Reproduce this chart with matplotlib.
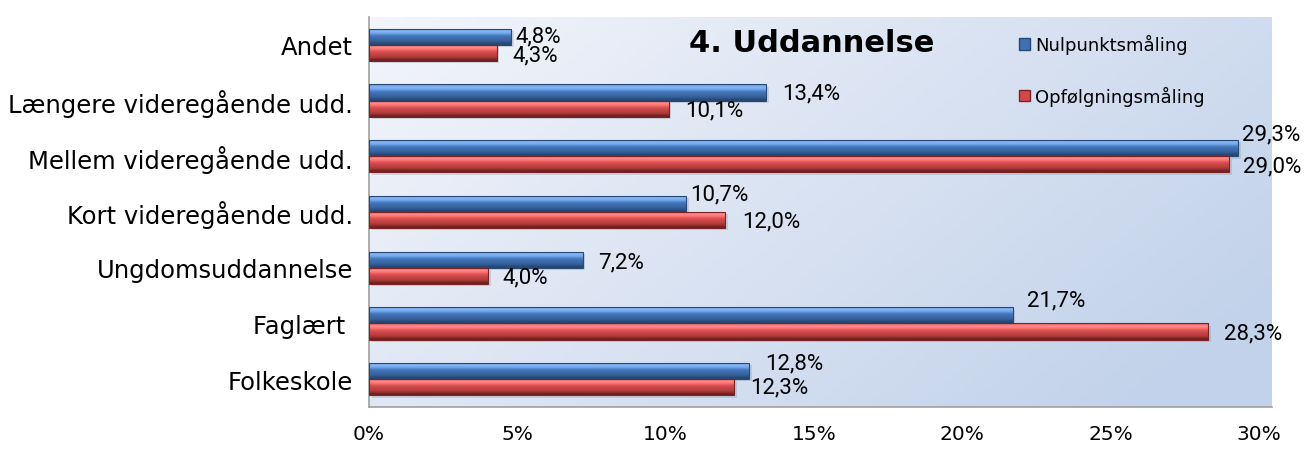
import numpy as np
import matplotlib
matplotlib.use("Agg")
import matplotlib.pyplot as plt
from matplotlib.colors import to_rgb
from matplotlib.patches import Patch

categories = ["Folkeskole", "Faglært ", "Ungdomsuddannelse", "Kort videregående udd.",
              "Mellem videregående udd.", "Længere videregående udd.", "Andet"]
nulpunkt = [12.8, 21.7, 7.2, 10.7, 29.3, 13.4, 4.8]
opfoelgning = [12.3, 28.3, 4.0, 12.0, 29.0, 10.1, 4.3]
series_names = ["Nulpunktsmåling", "Opfølgningsmåling"]
xticks = [0, 5, 10, 15, 20, 25, 30]
title = "4. Uddannelse"

# label offsets in pixels (dx, dy) from bar end / bar centre -- styling only
blue_off = [(17, 8), (14, 15), (16, -2), (4, 10), (4, 14), (16, 0), (4, 1)]
red_off = [(16, 0), (16, -1), (15, -1), (17, -1), (14, -2), (17, -1), (16, -2)]

plt.rcParams['font.family'] = ['DejaVu Sans']
label_family, label_size = ['Roboto', 'DejaVu Sans'], 16

fig = plt.figure(figsize=(13.06, 4.52), dpi=100)
ax = fig.add_axes([369/1306, 1-408/452, (1272-369)/1306, (408-18)/452])

# background gradient
c0, c1 = np.array(to_rgb("#f3f5fb")), np.array(to_rgb("#c2d2ea"))
gx, gy = np.meshgrid(np.linspace(0, 1, 300), np.linspace(0, 1, 100))
t = np.clip(0.72 * gx + 0.38 * gy, 0, 1)[..., None]
bgimg = c0 * (1 - t) + c1 * t
ax.imshow(bgimg, extent=[0, 1, 0, 1], transform=ax.transAxes,
          aspect="auto", zorder=0, origin="upper")

y = np.arange(len(categories))
h = 0.29

def stripe(cols):
    return np.array([to_rgb(c) for c in cols])[:, None, :]

blue_img = stripe(["#24466f", "#31598f", "#3a66a3", "#3f6db0", "#4a7cc0", "#6fa4ea", "#86b6f5", "#6d9fe2"])
red_img = stripe(["#6e1f1f", "#a03434", "#bb4040", "#c84646", "#d85454", "#ff6e6e", "#ff8c8c", "#ee6a6a"])

def draw(vals, pos, img, edge):
    bars = ax.barh(pos, vals, height=h, color="none", edgecolor=edge, linewidth=0.8, zorder=3)
    for b in bars:
        x0, y0 = b.get_x(), b.get_y()
        w, hh = b.get_width(), b.get_height()
        ax.barh(y0 + hh/2 - 0.04, w, left=x0 + 0.1, height=hh, color="#6c7890",
                alpha=0.22, zorder=1.5, linewidth=0)
        im = ax.imshow(img, extent=[x0, x0 + w, y0, y0 + hh], aspect="auto",
                       origin="lower", zorder=2, interpolation="bilinear")
        im.set_clip_path(b)
    return bars

draw(nulpunkt, y + h/2, blue_img, "#274a78")
draw(opfoelgning, y - h/2, red_img, "#7a2424")

fmt = lambda v: f"{v:.1f}%".replace(".", ",")
for i in range(len(categories)):
    ax.annotate(fmt(nulpunkt[i]), (nulpunkt[i], y[i] + h/2), xytext=blue_off[i],
                textcoords="offset pixels", fontsize=label_size, family=label_family,
                va="center", ha="left", zorder=5)
    ax.annotate(fmt(opfoelgning[i]), (opfoelgning[i], y[i] - h/2), xytext=red_off[i],
                textcoords="offset pixels", fontsize=label_size, family=label_family,
                va="center", ha="left", zorder=5)

ax.set_xlim(0, 30.45)
ax.set_ylim(-0.5, len(categories) - 0.5)
ax.set_xticks(xticks)
ax.set_xticklabels([f"{t}%" for t in xticks], fontsize=14.5)
ax.set_yticks(y)
ax.set_yticklabels(categories, fontsize=17.5)
ax.tick_params(axis="both", length=0)
ax.tick_params(axis="x", pad=12)
ax.tick_params(axis="y", pad=11.5)
for s in ["top", "right"]:
    ax.spines[s].set_visible(False)
for s in ["left", "bottom"]:
    ax.spines[s].set_color("#a0a0a0")
    ax.spines[s].set_linewidth(1.2)

fig.text(812/1306, 1-43/452, title, fontsize=22, fontweight="bold", ha="center", va="center")

handles = [Patch(facecolor="#3f71b0", edgecolor="#27497a"), Patch(facecolor="#d44848", edgecolor="#7a2424")]
ax.legend(handles, series_names, loc="upper left", bbox_to_anchor=((1012-369)/903, 1-(28-18)/390),
          frameon=False, fontsize=13, handlelength=0.6, handleheight=0.6, handletextpad=0.3,
          labelspacing=1.75, borderaxespad=0)

fig.savefig("out.png", dpi=100)
